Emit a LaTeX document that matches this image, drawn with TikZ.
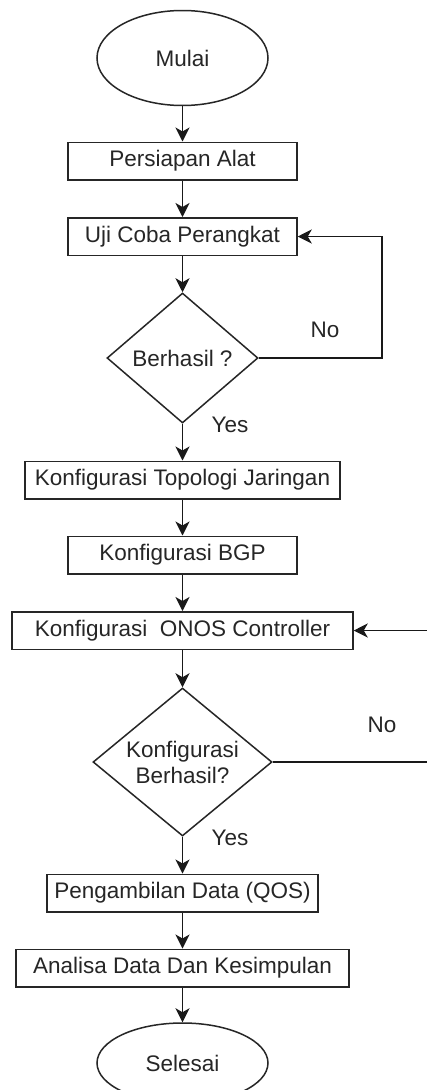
\documentclass[tikz,border=0pt]{standalone}
\usepackage{fontspec}
\setmainfont{Liberation Sans}
\usetikzlibrary{shapes.geometric,arrows.meta}
\begin{document}
\begin{tikzpicture}[x=1pt,y=-1pt,
  every node/.style={font=\fontsize{22.5}{27}\selectfont, text=black!85},
  base/.style={draw=black!85, line width=1.5pt, inner sep=0pt},
  term/.style={base, ellipse, minimum width=171pt},
  proc/.style={base, rectangle, minimum height=37.5pt},
  decis/.style={base, diamond},
  arr/.style={draw=black!90, line width=1.5pt, -{Stealth[length=14pt,width=14pt,inset=4pt]}},
  lbl/.style={inner sep=0pt}]
\useasboundingbox (0,0) rectangle (426,1090);
\fill[white] (0,0) rectangle (426,1090);

\node[term, minimum height=95pt] (start) at (182.5,58) {Mulai};
\node[proc, minimum width=229pt] (n1) at (182.5,161) {Persiapan Alat};
\node[proc, minimum width=229pt] (n2) at (182.5,236.5) {Uji Coba Perangkat};
\node[decis, minimum width=151pt, minimum height=130pt,
      label={center:Berhasil ?}] (d1) at (182.5,358) {};
\node[proc, minimum width=315pt] (n3) at (182.5,480) {Konfigurasi Topologi Jaringan};
\node[proc, minimum width=229pt] (n4) at (182.5,555) {Konfigurasi BGP};
\node[proc, minimum width=341pt] (n5) at (182.5,630.5) {Konfigurasi~ ONOS Controller};
\node[decis, minimum width=179pt, minimum height=148pt,
      label={[align=center, font=\fontsize{22.5}{26}\selectfont]center:Konfigurasi\\Berhasil?}] (d2) at (182.5,762) {};
\node[proc, minimum width=271pt] (n6) at (182.5,893) {Pengambilan Data (QOS)};
\node[proc, minimum width=333pt] (n7) at (182.5,968) {Analisa Data Dan Kesimpulan};
\node[term, minimum height=80pt] (end) at (182.5,1063) {Selesai};

\coordinate (c1) at (382,300);
\coordinate (c2) at (432,700);

\draw[arr] (start) -- (n1);
\draw[arr] (n1) -- (n2);
\draw[arr] (n2) -- (d1);
\draw[arr] (d1) -- (n3);
\draw[arr] (n3) -- (n4);
\draw[arr] (n4) -- (n5);
\draw[arr] (n5) -- (d2);
\draw[arr] (d2) -- (n6);
\draw[arr] (n6) -- (n7);
\draw[arr] (n7) -- (end);
\draw[arr] (d1.east) -| (c1) |- (n2.east);
\draw[arr] (d2.east) -| (c2) |- (n5.east);

\node[lbl] (no1) at (325,330) {No};
\node[lbl] (yes1) at (230,425) {Yes};
\node[lbl] (no2) at (382,725) {No};
\node[lbl] (yes2) at (230,838) {Yes};
\end{tikzpicture}
\end{document}
